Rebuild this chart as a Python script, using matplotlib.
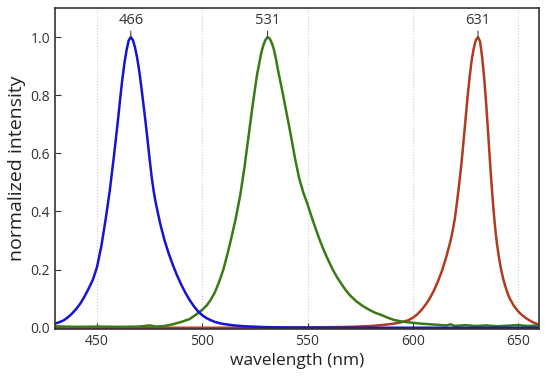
import matplotlib
matplotlib.use('Agg')
import matplotlib.pyplot as plt

blue_wl = [430, 432, 434, 436, 438, 440, 442, 444, 446, 448, 450, 452, 454,
           456, 458, 460, 461, 462, 463, 464, 465, 466, 467, 468, 469, 470,
           471, 472, 473, 474, 475, 476, 477, 478, 480, 482, 484, 486, 488,
           490, 492, 494, 496, 498, 500, 502, 504, 506, 508, 510, 515, 520,
           530, 540, 560, 600, 660]
blue_int = [0.014, 0.019, 0.025, 0.035, 0.048, 0.064, 0.083, 0.107, 0.135,
            0.165, 0.21, 0.28, 0.37, 0.47, 0.59, 0.72, 0.79, 0.855, 0.91,
            0.955, 0.988, 1.0, 0.99, 0.965, 0.93, 0.885, 0.83, 0.77, 0.71,
            0.645, 0.578, 0.515, 0.465, 0.425, 0.358, 0.302, 0.256, 0.216,
            0.18, 0.148, 0.12, 0.095, 0.074, 0.056, 0.043, 0.033, 0.026,
            0.02, 0.016, 0.013, 0.008, 0.005, 0.002, 0.001, 0.0, 0.0, 0.0]

green_wl = [430, 440, 450, 460, 470, 475, 478, 482, 486, 490, 494, 497, 500,
            502, 504, 506, 508, 510, 512, 514, 516, 518, 520, 522, 524, 526,
            528, 529, 530, 531, 532, 533, 534, 535, 536, 538, 540, 542, 544,
            546, 548, 550, 552, 554, 556, 558, 560, 562, 564, 566, 568, 570,
            573, 576, 579, 582, 585, 588, 591, 595, 600, 604, 608, 612, 616,
            618, 620, 625, 630, 635, 640, 645, 650, 655, 660]
green_int = [0.005, 0.003, 0.004, 0.003, 0.004, 0.008, 0.004, 0.006, 0.012,
             0.02, 0.03, 0.045, 0.062, 0.076, 0.096, 0.122, 0.158, 0.2,
             0.255, 0.315, 0.38, 0.455, 0.55, 0.66, 0.77, 0.87, 0.945, 0.972,
             0.99, 1.0, 0.995, 0.98, 0.958, 0.925, 0.885, 0.815, 0.74, 0.665,
             0.585, 0.515, 0.465, 0.425, 0.38, 0.338, 0.298, 0.262, 0.23, 0.2,
             0.174, 0.152, 0.131, 0.113, 0.092, 0.076, 0.063, 0.052, 0.044,
             0.035, 0.027, 0.021, 0.017, 0.014, 0.012, 0.01, 0.008, 0.012,
             0.006, 0.009, 0.006, 0.008, 0.005, 0.007, 0.009, 0.006, 0.008]

red_wl = [430, 540, 560, 570, 580, 585, 590, 594, 598, 600, 602, 604, 606,
          608, 610, 612, 614, 616, 618, 619, 620, 621, 622, 623, 624, 625,
          626, 627, 628, 629, 630, 631, 632, 633, 634, 635, 636, 637, 638,
          639, 640, 641, 642, 643, 644, 645, 646, 648, 650, 652, 654, 656,
          658, 660]
red_int = [0.0, 0.0, 0.002, 0.003, 0.006, 0.009, 0.013, 0.018, 0.026, 0.034,
           0.045, 0.06, 0.078, 0.1, 0.127, 0.16, 0.198, 0.245, 0.3, 0.335,
           0.375, 0.43, 0.49, 0.555, 0.63, 0.71, 0.79, 0.86, 0.92, 0.962,
           0.99, 1.0, 0.985, 0.93, 0.855, 0.76, 0.65, 0.54, 0.44, 0.355, 0.29,
           0.24, 0.2, 0.168, 0.142, 0.12, 0.102, 0.076, 0.057, 0.043, 0.032,
           0.023, 0.016, 0.011]

peaks = [466, 531, 631]

plt.rcParams['font.family'] = ['Open Sans', 'DejaVu Sans']

fig = plt.figure(figsize=(5.5, 3.82), dpi=100)
ax = fig.add_axes([0.1, 0.139, 0.88, 0.84])

ax.plot(red_wl, red_int, color='#b23a1e', lw=1.8)
ax.plot(green_wl, green_int, color='#3a7a14', lw=1.8)
ax.plot(blue_wl, blue_int, color='#1414d2', lw=1.8)

for p in peaks:
    ax.annotate(str(p), xy=(p, 1.0), xytext=(p, 1.03), ha='center', va='bottom',
                fontsize=10.5, color='#333333',
                arrowprops=dict(arrowstyle='-', color='#444444', lw=0.8,
                                shrinkA=0, shrinkB=0))

ax.set_xlim(430, 660)
ax.set_ylim(-0.004, 1.1)
ax.set_xticks([450, 500, 550, 600, 650])
ax.set_yticks([0.0, 0.2, 0.4, 0.6, 0.8, 1.0])
ax.set_yticklabels(['0.0', '0.2', '0.4', '0.6', '0.8', '1.0'])
ax.xaxis.grid(True, linestyle=':', color='#cccccc', lw=0.8)
ax.tick_params(direction='in', length=4, width=0.8, colors='#333333',
               labelsize=10, labelcolor='#333333')
for s in ax.spines.values():
    s.set_color('#333333')
    s.set_linewidth(1.2)

ax.set_xlabel('wavelength (nm)', fontsize=12.5, color='#222222', labelpad=3)
ax.set_ylabel('normalized intensity', fontsize=14, color='#222222', labelpad=3)

plt.savefig('out.png', dpi=100)
